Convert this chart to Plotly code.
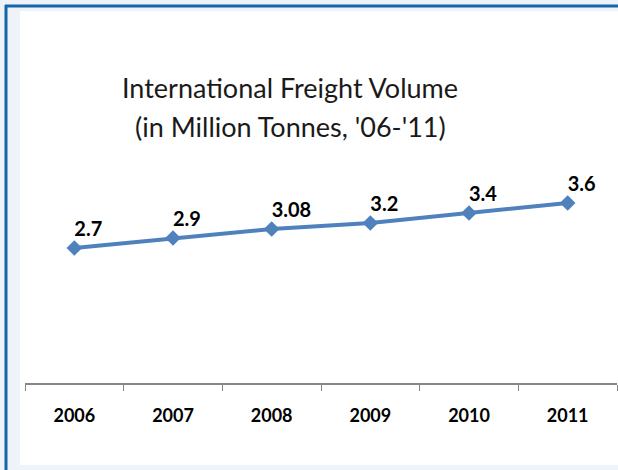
import plotly.graph_objects as go

years = ["2006", "2007", "2008", "2009", "2010", "2011"]
volume = [2.7, 2.9, 3.08, 3.2, 3.4, 3.6]
labels = ["2.7", "2.9", "3.08", "3.2", "3.4", "3.6"]

W, H = 618, 470
L, R, T, B = 25, 1, 183, 87
PW, PH = W - L - R, H - T - B

def px(x):
    return (x - L) / PW

def py(y):
    return (H - B - y) / PH

fig = go.Figure()
fig.add_trace(go.Scatter(
    x=years, y=volume, mode="lines+markers",
    line=dict(color="#4F81BD", width=4),
    marker=dict(symbol="diamond", size=12, color="#4F81BD"),
    cliponaxis=False, hoverinfo="skip",
))
# labels on an overlaid axis shifted a few pixels so they sit just above the points
fig.add_trace(go.Scatter(
    x=years, y=volume, mode="text", yaxis="y2",
    text=labels, textposition="top right",
    textfont=dict(family="Lato", size=20, color="#000000", weight="bold"),
    cliponaxis=False, hoverinfo="skip",
))

shapes = [
    dict(type="rect", xref="paper", yref="paper", x0=px(20), x1=px(619), y0=py(465), y1=py(11),
         fillcolor="white", line=dict(width=0), layer="below"),
    dict(type="line", xref="paper", yref="paper", x0=px(5), x1=px(619), y0=py(6), y1=py(6),
         line=dict(color="#1565A8", width=3)),
    dict(type="line", xref="paper", yref="paper", x0=px(6), x1=px(6), y0=py(5), y1=py(471),
         line=dict(color="#1565A8", width=3)),
]

fig.update_layout(
    width=W, height=H,
    margin=dict(l=L, r=R, t=T, b=B),
    paper_bgcolor="#EEF3FA", plot_bgcolor="white",
    showlegend=False, shapes=shapes,
    xaxis=dict(type="category", tickson="boundaries", ticks="outside", ticklen=6,
               tickcolor="#868686", showline=True, linecolor="#868686", linewidth=1.5,
               showgrid=False, zeroline=False, ticklabelstandoff=16,
               tickfont=dict(family="Lato", size=18, color="#000000", weight="bold"),
               range=[-0.5, 5.5]),
    yaxis=dict(range=[0, 4], visible=False, showgrid=False, zeroline=False),
    yaxis2=dict(range=[-0.15, 3.85], overlaying="y", visible=False, showgrid=False, zeroline=False),
    annotations=[
        dict(text="International Freight Volume", xref="paper", yref="paper",
             x=px(290), y=py(87), showarrow=False, xanchor="center", yanchor="middle",
             font=dict(family="Lato", size=27, color="#1a1a1a")),
        dict(text="(in Million Tonnes, '06-'11)", xref="paper", yref="paper",
             x=px(290), y=py(126), showarrow=False, xanchor="center", yanchor="middle",
             font=dict(family="Lato", size=27, color="#1a1a1a")),
    ],
)

fig.write_html("out.html")
